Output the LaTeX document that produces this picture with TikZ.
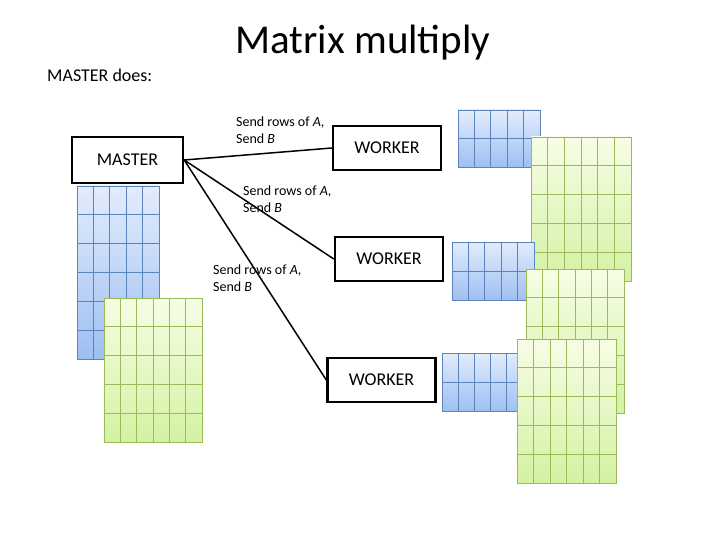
\documentclass[tikz,border=0pt]{standalone}
\usepackage{fontspec}
\setmainfont{Carlito}
\begin{document}
\definecolor{bl}{HTML}{5B84BD}
\definecolor{gl}{HTML}{9BBB59}
\definecolor{btop}{HTML}{E2ECFC}
\definecolor{bbot}{HTML}{9FBFF2}
\definecolor{gtop}{HTML}{F7FDE6}
\definecolor{gbot}{HTML}{D3F2A2}
\newcommand\mygrid[7]{%
  \ifx#7b
    \shade[top color=btop,bottom color=bbot] (#1,#2) rectangle (#3,#4);
    \def\lc{bl}%
  \else
    \shade[top color=gtop,bottom color=gbot] (#1,#2) rectangle (#3,#4);
    \def\lc{gl}%
  \fi
  \foreach \i in {1,...,#5}{\draw[\lc,line width=0.8pt] ({#1+(#3-#1)*\i/#5},#2) -- ({#1+(#3-#1)*\i/#5},#4);}
  \foreach \j in {1,...,#6}{\draw[\lc,line width=0.8pt] (#1,{#2+(#4-#2)*\j/#6}) -- (#3,{#2+(#4-#2)*\j/#6});}
  \draw[\lc,line width=0.8pt] (#1,#2) rectangle (#3,#4);
}
\begin{tikzpicture}[x=1pt,y=-1pt,
  box/.style={draw,line width=2.4pt,minimum width=108pt,minimum height=44pt,inner sep=0pt,font=\fontsize{18}{21}\selectfont},
  lbl/.style={align=left,anchor=north west,inner sep=0pt,font=\fontsize{14}{17}\selectfont},
  conn/.style={line width=1.5pt}]
\useasboundingbox (0,0) rectangle (720,540);
\node (title) at (363,43) {\fontsize{41}{48}\selectfont Matrix multiply};
\node[anchor=west,inner sep=0pt] (does) at (47,75) {\fontsize{18}{21}\selectfont MASTER does:};
\mygrid{77}{186}{159}{359}{5}{6}{b}
\mygrid{104}{298}{202}{442}{6}{5}{g}
\mygrid{458}{110}{540}{167}{5}{2}{b}
\mygrid{531}{137}{631}{281}{6}{5}{g}
\mygrid{452}{242}{534}{300}{5}{2}{b}
\mygrid{526}{269}{624}{413}{6}{5}{g}
\mygrid{442}{353}{523}{411}{5}{2}{b}
\mygrid{517}{339}{616}{483}{6}{5}{g}
\node[box,minimum width=111pt,minimum height=46pt] (m) at (127.5,160) {MASTER};
\node[box] (w1) at (387,148) {WORKER};
\node[box] (w2) at (389,259) {WORKER};
\node[box] (w3) at (381.5,380) {WORKER};
\draw[conn] (m.east) -- (w1.west);
\draw[conn] (m.east) -- (w2.west);
\draw[conn] (m.east) -- (w3.west);
\node[lbl] (l1) at (236,117) {Send rows of \textit{A},\\Send \textit{B}};
\node[lbl] (l2) at (243,186) {Send rows of \textit{A},\\Send \textit{B}};
\node[lbl] (l3) at (213,265) {Send rows of \textit{A},\\Send \textit{B}};
\end{tikzpicture}
\end{document}
